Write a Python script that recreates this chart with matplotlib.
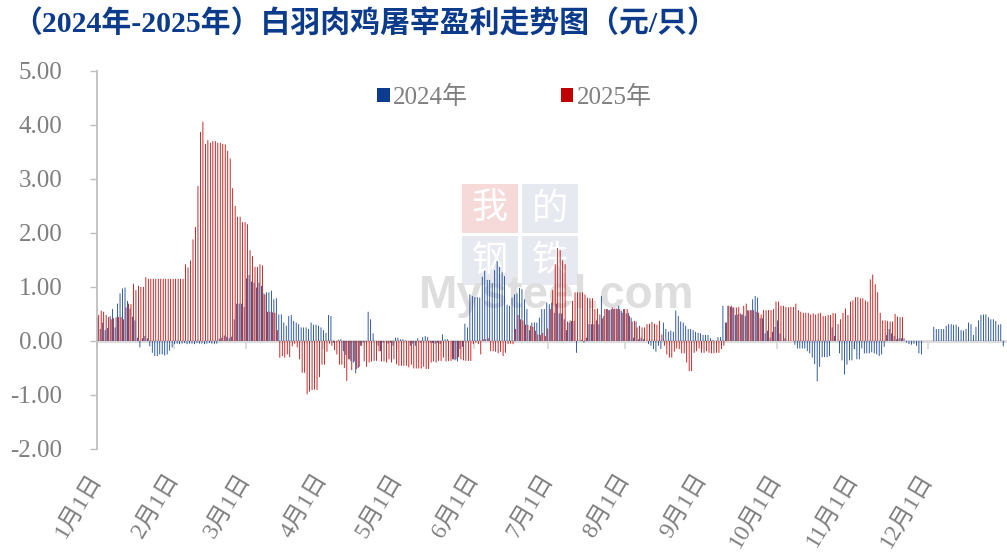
import numpy as np
import matplotlib
matplotlib.use('Agg')
import matplotlib.pyplot as plt
from matplotlib.patches import Rectangle

plt.rcParams['font.family'] = ['Liberation Serif', 'Noto Sans CJK SC']
plt.rcParams['axes.unicode_minus'] = False

nan = np.nan

# daily slaughter profit (yuan / bird), one slot per calendar day of 2024 (366)
p24_jan = [0.43, 0.22, 0.34, 0.20, 0.24, 0.46, 0.59, 0.25, 0.69, 0.88, 0.97, 0.99, 0.74, 0.60, 0.45, 0.38,
           0.06, -0.12, 0.05, 0.09, 0.05, -0.10, -0.22, -0.28, -0.28, -0.25, -0.25, -0.27, -0.25, -0.18, -0.12]
p24_feb = [-0.06, -0.05, -0.06, -0.05, -0.04, -0.06, -0.05, -0.05, -0.06, -0.04, -0.05, -0.05, -0.06, -0.05,
           -0.04, -0.05, -0.06, -0.05, 0.04, 0.06, 0.10, 0.08, 0.05, 0.08, 0.40, 0.69, 0.69, 0.69, 0.63]
p24_mar = [1.16, 1.22, 1.10, 1.08, 0.99, 1.08, 1.02, 0.88, 0.90, 0.90, 0.93, 0.77, 0.79, 0.49, 0.49, 0.34,
           0.28, 0.46, 0.48, 0.37, 0.34, 0.31, 0.25, 0.25, 0.25, 0.22, 0.34, 0.30, 0.30, 0.28, 0.25]
p24_apr = [0.20, 0.15, 0.48, 0.46, -0.03, 0.00, 0.02, 0.03, -0.19, -0.26, -0.34, -0.37, -0.40, -0.60, -0.50,
           -0.09, -0.03, -0.01, 0.54, 0.40, 0.14, 0.00, -0.09, -0.19, -0.03, 0.00, -0.05, -0.03, -0.09, 0.06]
p24_may = [0.06, 0.03, 0.03, 0.01, 0.00, -0.09, -0.05, -0.09, 0.05, -0.03, 0.07, 0.09, 0.07, -0.03, -0.04,
           -0.05, -0.03, -0.06, 0.12, 0.03, 0.03, 0.00, -0.34, -0.36, -0.38, -0.15, -0.11, 0.32, 0.25, 0.86, 0.83]
p24_jun = [0.81, 0.81, 0.80, 1.19, 1.30, 1.13, 1.13, 1.07, 1.31, 1.48, 1.37, 1.28, 1.20, 0.67, 0.65,
           0.80, 0.86, 0.88, 0.98, 0.96, 0.77, 0.59, 0.20, 0.34, 0.34, 0.34, 0.43, 0.59, 0.59, 0.71]
p24_jul = [0.68, 0.71, 0.52, 0.69, 0.51, 0.51, 0.40, 0.20, 0.34, 0.37, 0.37, -0.22, 0.00, 0.02, -0.03, 0.06,
           0.31, 0.31, 0.31, 0.38, 0.31, 0.83, 0.46, 0.59, 0.57, 0.59, 0.59, 0.60, 0.65, 0.56, 0.59]
p24_aug = [0.51, 0.52, 0.43, 0.06, 0.36, 0.03, 0.06, 0.03, 0.00, -0.06, -0.09, -0.15, -0.20, -0.09, -0.15,
           0.34, 0.22, 0.17, 0.19, 0.17, 0.56, 0.46, 0.36, 0.34, 0.28, 0.22, 0.22, 0.20, 0.17, 0.15, 0.14]
p24_sep = [0.11, 0.11, 0.11, 0.05, 0.02, 0.00, 0.07, 0.07, 0.65, 0.34, 0.65, 0.63, 0.62, 0.48, 0.49,
           0.51, 0.49, 0.46, 0.57, 0.57, 0.77, 0.83, 0.80, 0.42, 0.42, 0.14, 0.19, 0.06, 0.17, 0.26]
p24_oct = [0.38, 0.14, 0.00, 0.05, 0.00, 0.00, 0.00, -0.07, -0.14, -0.14, -0.14, -0.14, -0.19, -0.23, -0.31,
           -0.43, -0.75, -0.48, -0.30, -0.30, -0.30, -0.28, 0.25, 0.09, 0.00, -0.23, -0.36, -0.62, -0.44, -0.36, -0.36]
p24_nov = [-0.15, -0.34, -0.34, -0.14, -0.23, -0.23, -0.23, -0.21, -0.23, -0.25, -0.28, -0.25, -0.11, 0.11,
           0.22, 0.14, 0.09, 0.03, 0.05, 0.05, 0.05, -0.03, -0.06, -0.07, -0.05, -0.09, -0.23, -0.25, nan, nan]
p24_dec = [nan, nan, 0.26, 0.22, 0.22, 0.22, 0.22, 0.28, 0.31, 0.31, 0.30, 0.30, 0.26, 0.20, 0.19, 0.22,
           0.34, 0.31, 0.11, 0.26, 0.38, 0.48, 0.49, 0.49, 0.44, 0.40, 0.40, 0.37, 0.30, 0.31, -0.10]

p25_jan = [0.48, 0.56, 0.54, 0.48, 0.44, 0.40, 0.42, 0.44, 0.44, 0.44, 0.40, 0.62, 0.69, 0.68, 1.06, 0.94,
           1.02, 1.00, 1.00, 1.18, 1.15, 1.15, 1.15, 1.15, 1.15, 1.15, 1.15, 1.15, 1.15, 1.15, 1.15]
p25_feb = [1.15, 1.15, 1.15, 1.15, 1.42, 1.36, 1.49, 1.88, 2.11, 2.87, 3.87, 4.06, 3.65, 3.72, 3.67,
           3.70, 3.70, 3.67, 3.67, 3.65, 3.64, 3.52, 3.38, 2.83, 2.50, 2.30, 2.30, 2.20, 2.20]
p25_mar = [2.16, 1.68, 1.57, 1.37, 1.37, 1.42, 1.40, 0.86, 0.54, 0.54, 0.53, 0.52, 0.20, -0.31, -0.28, -0.31,
           -0.25, -0.30, -0.10, -0.05, -0.12, -0.34, -0.59, -0.59, -0.99, -0.94, -0.91, -0.90, -0.91, -0.67, -0.44]
p25_apr = [-0.44, -0.20, -0.05, -0.09, -0.17, -0.25, -0.44, -0.44, -0.50, -0.74, -0.34, -0.54, -0.38, -0.52,
           -0.48, -0.09, -0.38, -0.48, -0.40, -0.38, -0.37, -0.37, -0.19, -0.38, -0.38, -0.40, -0.34, -0.40, -0.34, -0.43]
p25_may = [-0.46, -0.46, -0.46, -0.46, -0.49, -0.44, -0.51, -0.51, -0.51, -0.51, -0.48, -0.52, -0.52, -0.40,
           -0.38, -0.40, -0.37, -0.37, -0.31, -0.38, -0.37, -0.37, -0.34, -0.34, -0.30, -0.34, -0.36, -0.37, -0.37, -0.37, -0.06]
p25_jun = [-0.03, -0.06, -0.25, 0.03, 0.03, 0.05, -0.19, -0.19, -0.20, -0.23, -0.20, -0.28, -0.22, -0.06, -0.05,
           -0.06, 0.22, 0.48, 0.40, 0.38, 0.30, 0.30, 0.28, 0.26, 0.19, 0.12, 0.11, 0.15, 0.09, 0.23]
p25_jul = [0.59, 0.94, 1.42, 1.72, 1.68, 1.49, 1.42, 0.36, 0.38, 0.74, 0.90, 0.90, 0.90, 0.90, 0.86, 0.80,
           0.79, 0.79, 0.59, 0.60, 0.49, 0.42, 0.59, 0.59, 0.57, 0.62, 0.60, 0.59, 0.59, 0.52, 0.59]
p25_aug = [0.59, 0.46, 0.36, 0.37, 0.25, 0.28, 0.25, 0.25, 0.31, 0.32, 0.35, 0.32, 0.30, 0.37, 0.12, -0.09,
           -0.25, -0.31, -0.31, -0.20, -0.14, -0.15, -0.23, -0.23, -0.40, -0.56, -0.56, -0.22, -0.19, -0.14, -0.22]
p25_sep = [-0.22, -0.19, -0.22, -0.23, -0.23, -0.22, -0.22, -0.15, -0.09, 0.34, 0.65, 0.65, 0.62, 0.62, 0.63,
           0.49, 0.65, 0.69, 0.56, 0.57, 0.57, 0.54, 0.52, 0.49, 0.57, 0.57, 0.57, 0.57, 0.59, 0.73]
p25_oct = [0.73, 0.65, 0.65, 0.63, 0.62, 0.63, 0.63, 0.69, 0.57, 0.54, 0.52, 0.52, 0.52, 0.49, 0.51, 0.49,
           0.51, 0.52, 0.46, 0.46, 0.48, 0.48, 0.52, 0.51, 0.31, 0.40, 0.52, 0.60, 0.48, 0.73, 0.75]
p25_nov = [0.81, 0.81, 0.79, 0.79, 0.75, 0.73, 1.14, 1.23, 1.05, 0.90, 0.52, 0.38, 0.38, 0.37, 0.36, 0.36,
           0.50, 0.45, 0.44, 0.44, nan, nan, nan, nan, nan, nan, nan, nan, nan, nan]
p25_dec = [nan] * 31

month_labels = ['1月1日', '2月1日', '3月1日', '4月1日', '5月1日', '6月1日',
                '7月1日', '8月1日', '9月1日', '10月1日', '11月1日', '12月1日']
month_lengths = [31, 29, 31, 30, 31, 30, 31, 31, 30, 31, 30, 31]

BLUE = '#0B3C8F'
RED = '#C00000'
GREY_TXT = '#7f7f7f'
GREY_AX = '#bfbfbf'

s24 = np.array(p24_jan + p24_feb + p24_mar + p24_apr + p24_may + p24_jun +
               p24_jul + p24_aug + p24_sep + p24_oct + p24_nov + p24_dec, dtype=float)
s25 = np.array(p25_jan + p25_feb + p25_mar + p25_apr + p25_may + p25_jun +
               p25_jul + p25_aug + p25_sep + p25_oct + p25_nov + p25_dec, dtype=float)
days = np.arange(len(s24))
month_starts = np.concatenate([[0], np.cumsum(month_lengths)[:-1]]) - 0.5

fig = plt.figure(figsize=(10.07, 5.59), dpi=100)
ax = fig.add_axes([0.0963, 0.197, 0.9017, 0.676])

# faint Mysteel watermark behind the bars
wm = dict(transform=fig.transFigure, zorder=0.5)
for (x0, y0, ch, fc) in [(0.4588, 0.583, '我', '#f6d9d9'), (0.5184, 0.583, '的', '#e6e9ef'),
                         (0.4588, 0.490, '钢', '#e6e9ef'), (0.5184, 0.490, '铁', '#e6e9ef')]:
    ax.add_patch(Rectangle((x0, y0), 0.0556, 0.087, facecolor=fc, edgecolor='none', **wm))
    ax.text(x0 + 0.0278, y0 + 0.0435, ch, ha='center', va='center', fontsize=26, color='white',
            family='Noto Sans CJK SC', **wm)
ax.text(0.553, 0.470, 'Mysteel.com', ha='center', va='center', fontsize=33, fontweight='bold',
        color='#dedede', family='Liberation Sans', **wm)

ax.bar(days - 0.2, s24, width=0.33, color=BLUE, linewidth=0, label='2024年', zorder=2, snap=False)
ax.bar(days + 0.2, s25, width=0.33, color=RED, linewidth=0, label='2025年', zorder=2, snap=False)

ax.set_xlim(-0.5, len(days) - 0.5)
ax.set_ylim(-2, 5)
yt = np.arange(-2, 5.01, 1)
ax.set_yticks(yt, labels=[f'{v:.2f}' for v in yt])
ax.tick_params(axis='y', direction='out', length=5, width=1, color=GREY_AX,
               labelcolor=GREY_TXT, labelsize=18, pad=20)
ax.set_xticks(month_starts, labels=month_labels, rotation=59, ha='right', va='center',
              rotation_mode='anchor', fontsize=17, color=GREY_TXT)
ax.tick_params(axis='x', length=0, pad=19)

for side in ['top', 'right', 'bottom']:
    ax.spines[side].set_visible(False)
ax.spines['left'].set_color(GREY_AX)
ax.spines['left'].set_linewidth(1.3)

# category axis line sitting at y = 0
zero = ax.secondary_xaxis(2 / 7)
zero.set_xticks(month_starts, labels=[])
zero.tick_params(axis='x', direction='out', length=6, width=1.3, color='#d9d9d9')
zero.spines['bottom'].set_color('#d9d9d9')
zero.spines['bottom'].set_linewidth(2)

ax.legend(loc='center', bbox_to_anchor=(0.511, 0.826), bbox_transform=fig.transFigure,
          ncol=2, frameon=False, fontsize=18, labelcolor=GREY_TXT, handlelength=0.5,
          handleheight=0.5, handletextpad=0.15, columnspacing=3.7)

fig.text(0.012, 0.958, '（2024年-2025年）白羽肉鸡屠宰盈利走势图（元/只）', fontsize=21.5,
         fontweight='bold', color='#0D3B8C', ha='left', va='center')

fig.savefig('out.png', dpi=100)
